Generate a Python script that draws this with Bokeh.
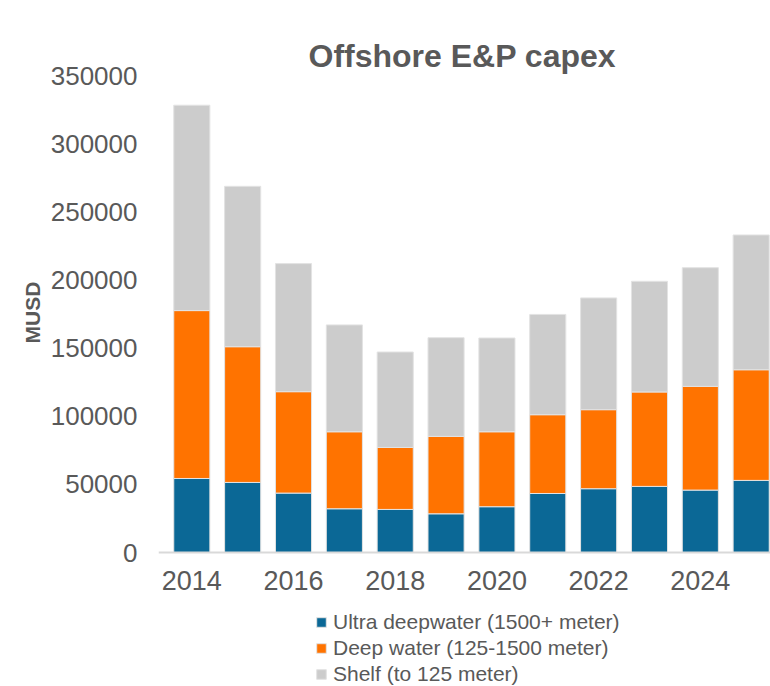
from bokeh.plotting import figure
from bokeh.models import (ColumnDataSource, Range1d, FixedTicker, BasicTickFormatter,
                          Legend, LegendItem, Title)
from bokeh.embed import file_html
from bokeh.resources import INLINE

# ---- data (MUSD) ----
years = [2014, 2015, 2016, 2017, 2018, 2019, 2020, 2021, 2022, 2023, 2024, 2025]
ultra_deepwater = [54300, 51400, 43600, 32100, 31600, 28400, 33600, 43300, 46800, 48500, 45800, 52900]
deep_water = [123200, 99600, 74400, 56500, 45500, 56800, 55000, 57800, 58000, 69300, 76100, 81200]
shelf = [150700, 117700, 94000, 78400, 70000, 72400, 68800, 73600, 82000, 81200, 87100, 98900]
series_labels = ["Ultra deepwater (1500+ meter)", "Deep water (125-1500 meter)", "Shelf (to 125 meter)"]
x_ticks = [2014, 2016, 2018, 2020, 2022, 2024]
y_ticks = [0, 50000, 100000, 150000, 200000, 250000, 300000, 350000]

colors = ["#0b6896", "#ff7300", "#cccccc"]
FONT = "Liberation Sans"
TXT = "#595959"

# layout: value area is 477 px tall for 0..350000; 134 px below it hold x labels and legend
Y_TOP = 350000
AREA_H = 477
BELOW_H = 134
y_start = -Y_TOP * BELOW_H / AREA_H

source = ColumnDataSource(dict(year=years, ultra=ultra_deepwater, deep=deep_water, shelf=shelf))

p = figure(frame_width=612, frame_height=AREA_H + BELOW_H, output_backend="svg", toolbar_location=None,
           x_range=Range1d(2013.345, 2025.38), y_range=Range1d(y_start, Y_TOP))
p.min_border_left = 158
p.min_border_right = 0
p.min_border_top = 75
p.min_border_bottom = 0
p.outline_line_color = None
p.grid.visible = False

renderers = p.vbar_stack(["ultra", "deep", "shelf"], x="year", width=0.71, color=colors,
                         line_color="#e3e3e3", line_width=1, source=source)

# a blank spacer next to the frame, then the title above it
spacer = Title(text=" ", text_font_size="1px", text_alpha=0, standoff=28)
p.add_layout(spacer, "above")
main_title = Title(text="Offshore E&P capex", text_font=FONT, text_font_size="32px",
                   text_font_style="bold", text_color=TXT, align="left", offset=150,
                   vertical_align="top", standoff=0)
p.add_layout(main_title, "above")

xa = p.xaxis[0]
xa.fixed_location = 0
xa.ticker = FixedTicker(ticks=x_ticks)
xa.major_label_text_font = FONT
xa.major_label_text_font_size = "27px"
xa.major_label_text_color = TXT
xa.major_label_standoff = 12
xa.major_tick_line_color = None
xa.minor_tick_line_color = None
xa.axis_line_color = "#d9d9d9"
xa.axis_line_width = 2

ya = p.yaxis[0]
ya.ticker = FixedTicker(ticks=y_ticks)
ya.formatter = BasicTickFormatter(use_scientific=False)
ya.major_label_text_font = FONT
ya.major_label_text_font_size = "26px"
ya.major_label_text_color = TXT
ya.major_label_standoff = 15
ya.major_tick_line_color = None
ya.minor_tick_line_color = None
ya.axis_line_color = None

y_title = Title(text="MUSD", text_font=FONT, text_font_size="21px", text_font_style="bold",
                text_color=TXT, align="left", offset=343, standoff=8)
p.add_layout(y_title, "left")

legend = Legend(items=[LegendItem(label=lab, renderers=[r]) for lab, r in zip(series_labels, renderers)],
                orientation="vertical", location=(157, 0),
                label_text_font=FONT, label_text_font_size="21px", label_text_color=TXT,
                glyph_width=12, glyph_height=12, label_standoff=6, label_height=20,
                spacing=2, padding=0, margin=0,
                border_line_color=None, background_fill_alpha=0)
p.add_layout(legend, "center")

open("out.html", "w").write(file_html(p, INLINE))
